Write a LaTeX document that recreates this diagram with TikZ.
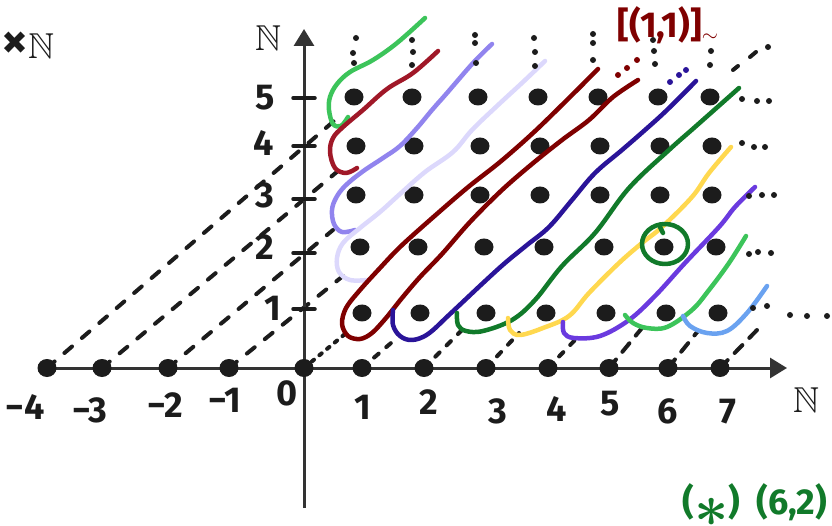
\documentclass[tikz,border=0pt]{standalone}
\usepackage{amssymb}
\usepackage{fontspec}
\setmainfont{Fira Sans}
\usetikzlibrary{arrows.meta}

\definecolor{ink}{HTML}{1C1C1C}
\definecolor{axisgray}{HTML}{333333}
\definecolor{eqgreen}{HTML}{3CC45A}
\definecolor{eqred}{HTML}{A01828}
\definecolor{eqlav}{HTML}{9184EE}
\definecolor{eqpale}{HTML}{DCD8FC}
\definecolor{eqmaroon}{HTML}{7F0000}
\definecolor{eqnavy}{HTML}{2A1499}
\definecolor{eqdkgreen}{HTML}{117A2A}
\definecolor{eqyellow}{HTML}{FFD84F}
\definecolor{eqviolet}{HTML}{6A3ADF}
\definecolor{eqblue}{HTML}{6AA2F0}
\newcommand{\sketchfont}{\fontsize{36}{42}\selectfont\bfseries}

\begin{document}
\begin{tikzpicture}[x=1pt, y=-1pt,
    lbl/.style={font=\sketchfont, text=ink, inner sep=0pt},
    axisline/.style={draw=axisgray, line width=3pt, -{Triangle[length=17pt, width=20pt]}},
    hairpin/.style={line width=4.5pt, line cap=round, line join=round},
    longdash/.style={draw=ink, line width=4pt, line cap=round, dash pattern=on 10pt off 13pt},
    shortdash/.style={draw=ink, line width=4pt, line cap=round, dash pattern=on 6pt off 10pt},
    densedash/.style={draw=ink, line width=4pt, line cap=round, dash pattern=on 3pt off 7pt},
    middash/.style={draw=ink, line width=4pt, line cap=round, dash pattern=on 11pt off 10pt}]
  \useasboundingbox (0,0) rectangle (832,526);

  % Integers on the horizontal axis and the ends of their classes.
  \coordinate (zm4) at (47,368);   \coordinate (em4) at (334,121);
  \coordinate (zm3) at (102,368);  \coordinate (em3) at (338,171);
  \coordinate (zm2) at (168,368);  \coordinate (em2) at (333,230);
  \coordinate (zm1) at (229,368);  \coordinate (em1) at (343,276);
  \coordinate (z0) at (304,368);   \coordinate (e0) at (345,334);
  \coordinate (z1) at (362,368);   \coordinate (e1) at (398,337);
  \coordinate (z2) at (424,368);   \coordinate (e2) at (463,329);
  \coordinate (z3) at (486,368);   \coordinate (e3) at (519,333);
  \coordinate (z4) at (548,368);   \coordinate (e4) at (575,340);
  \coordinate (z5) at (609,368);   \coordinate (e5) at (642,328);
  \coordinate (z6) at (668,368);   \coordinate (e6) at (698,331);
  \coordinate (z7) at (720,368);   \coordinate (e7) at (758,329);

  % Links from each integer to its class.
  \foreach \k in {m4,m3,m2,m1}
    \draw[longdash] (z\k) -- (e\k);
  \draw[densedash] (z0) -- (e0);
  \foreach \k in {1,2,3,4}
    \draw[shortdash] (z\k) -- (e\k);
  \foreach \k in {5,6,7}
    \draw[middash] (z\k) -- (e\k);

  % Axes.
  \draw[axisline] (304,508) -- (304,29);
  \draw[axisline] (47,368) -- (787,368);
  \foreach \yy in {98,146,199,253,309}
    \draw[ink, line width=3.5pt, line cap=round] (293,\yy) -- (315,\yy);

  % Dots on the horizontal axis.
  \foreach \k in {m4,m3,m2,m1,0,1,2,3,4,5,6,7}
    \fill[ink] (z\k) ellipse (9.5pt and 9pt);

  % Grid N x N (row offset / row height).
  \foreach \xs/\yy in {362/313,360/247,356/195,356/146,354/97}
    \foreach \dx in {0,58,124,184,244,304,356}
      \fill[ink] (\xs+\dx,\yy) ellipse (9.5pt and 8.5pt);

  % Classes below the diagonal side.
  \draw[hairpin, eqgreen] plot[smooth, tension=0.6] coordinates
    {(348,117) (341,126) (333,124) (329,110) (330,97) (337,84) (350,72) (373,60) (397,43) (425,18)};
  \draw[hairpin, eqred] plot[smooth, tension=0.6] coordinates
    {(357,168) (346,173) (335,168) (330,152) (333,138) (343,127) (363,110) (387,89) (413,73) (438,51)};
  \draw[hairpin, eqlav] plot[smooth, tension=0.6] coordinates
    {(355,230) (342,232) (334,224) (332,210) (336,198) (345,186) (362,172) (383,158) (400,146) (417,128) (432,110) (447,93) (473,63) (492,44)};
  \draw[hairpin, eqpale] plot[smooth, tension=0.6] coordinates
    {(367,280) (350,280) (339,272) (337,258) (343,243) (360,228) (380,212) (400,194) (425,172) (453,152) (472,130) (497,106) (523,82) (545,61)};

  % Diagonal class [(1,1)].
  \draw[hairpin, eqmaroon] plot[smooth, tension=0.55] coordinates
    {(598,69) (567,100) (533,133) (500,162) (467,188) (430,220) (400,247) (380,268) (360,290) (346,308) (342,324) (348,336) (360,339) (372,333) (386,318) (402,298) (420,277) (442,254) (470,222) (502,190) (532,164) (562,140) (589,120) (613,97) (638,80)};

  % Classes above the diagonal side.
  \draw[hairpin, eqnavy] plot[smooth, tension=0.6] coordinates
    {(393,310) (393,325) (400,336) (412,340) (428,334) (450,314) (483,283) (505,263) (527,245) (549,227) (572,200) (595,173) (622,150) (645,130) (667,110) (696,81)};
  \draw[hairpin, eqdkgreen] plot[smooth, tension=0.6] coordinates
    {(457,313) (458,325) (466,331) (483,331) (512,320) (535,300) (562,266) (595,233) (629,188) (669,150) (695,127) (739,88)};
  \draw[hairpin, eqyellow] plot[smooth, tension=0.6] coordinates
    {(508,318) (510,330) (520,335) (543,328) (569,316) (589,293) (619,263) (642,243) (662,227) (692,197) (709,173) (731,147)};
  \draw[hairpin, eqviolet] plot[smooth, tension=0.6] coordinates
    {(563,322) (564,333) (574,338) (600,336) (629,320) (655,296) (685,263) (719,227) (735,207) (755,187)};
  \draw[hairpin, eqgreen] plot[smooth, tension=0.6] coordinates
    {(625,315) (633,323) (647,328) (667,327) (692,310) (709,290) (729,263) (746,236)};
  \draw[hairpin, eqblue] plot[smooth, tension=0.6] coordinates
    {(683,316) (690,326) (707,333) (727,331) (747,313) (767,286)};

  % Marked element (6,2).
  \draw[hairpin, eqdkgreen] (665,244) ellipse (23pt and 20pt);
  \draw[hairpin, eqdkgreen] (660,227) -- (663,233);

  % Ellipses.
  \foreach \p in {(356,38),(353,53),(354,63),(412,40),(413,52),(412,65),
      (475,35),(475,43),(476,63),(534,38),(535,52),(535,66),
      (593,34),(593,43),(593,60),(653,40),(654,51),(655,64),(711,51),(710,65),
      (768,47),(742,99),(757,101),(769,101),(742,143),(754,147),(765,147),
      (749,196),(762,195),(774,195),(749,254),(758,252),(771,253),
      (753,308),(767,306),(790,315),(807,316),(827,316)}
    \fill[ink] \p circle (3pt);
  \draw[ink, line width=4pt, line cap=round] (733,70) -- (738,66);
  \draw[ink, line width=4pt, line cap=round] (750,57) -- (756,52);
  \foreach \p in {(618,75),(627,68),(637,60)}
    \fill[eqmaroon] \p circle (3pt);
  \foreach \p in {(670,82),(679,75),(686,70)}
    \fill[eqnavy] \p circle (3pt);

  % Labels of the horizontal axis.
  \node[lbl] (lm4) at (25,407) {−4};
  \node[lbl] (lm3) at (90,410) {−3};
  \node[lbl] (lm2) at (165,405) {−2};
  \node[lbl] (lm1) at (225,400) {−1};
  \node[lbl] (l0) at (287,393) {0};
  \node[lbl] (l1) at (363,407) {1};
  \node[lbl] (l2) at (429,402) {2};
  \node[lbl] (l3) at (498,411) {3};
  \node[lbl] (l4) at (557,409) {4};
  \node[lbl] (l5) at (610,404) {5};
  \node[lbl] (l6) at (668,411) {6};
  \node[lbl] (l7) at (728,412) {7};
  \node[lbl] (nx) at (806,400) {$\mathbb{N}$};

  % Labels of the vertical axis.
  \node[lbl] (v1) at (273,308) {1};
  \node[lbl] (v2) at (265,247) {2};
  \node[lbl] (v3) at (265,195) {3};
  \node[lbl] (v4) at (264,143) {4};
  \node[lbl] (v5) at (265,98) {5};
  \node[lbl] (ny) at (268,38) {$\mathbb{N}$};
  \node[lbl] (prod) at (28,45) {{\fontsize{52}{52}\selectfont ×}$\mathbb{N}$};

  % Class name and remark.
  \node[lbl, text=eqmaroon] (cls) at (668,25) {[(1,1)]{\Huge$_{\sim}$}};
  \node[lbl, text=eqdkgreen] (mark) at (755,505)
    {(\raisebox{-12pt}{\scalebox{2.4}{\boldmath$\ast$}})\;\,(6,2)};
\end{tikzpicture}
\end{document}
